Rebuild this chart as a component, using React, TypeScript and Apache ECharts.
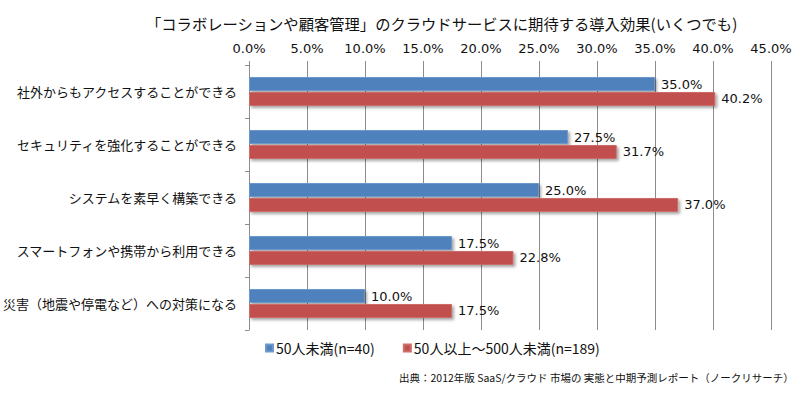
import React, { useEffect, useRef } from "react";
import * as echarts from "echarts";

const titleText = "「コラボレーションや顧客管理」のクラウドサービスに期待する導入効果(いくつでも)";
const sourceText = "出典：2012年版 SaaS/クラウド 市場の 実態と中期予測レポート（ノークリサーチ）";
const categories = [
  "社外からもアクセスすることができる",
  "セキュリティを強化することができる",
  "システムを素早く構築できる",
  "スマートフォンや携帯から利用できる",
  "災害（地震や停電など）への対策になる",
];
const seriesNames = ["50人未満(n=40)", "50人以上～500人未満(n=189)"];
const small = [35.0, 27.5, 25.0, 17.5, 10.0];
const medium = [40.2, 31.7, 37.0, 22.8, 17.5];
const colors = ["#4F81BD", "#C0504D"];
const borderColors = ["#6d98cc", "#cc6e6b"];

const JP = "'Noto Sans CJK JP', sans-serif";
const NUM = "'DejaVu Sans', 'Noto Sans CJK JP', sans-serif";

export default function App() {
  const ref = useRef<HTMLDivElement>(null);
  useEffect(() => {
    if (!ref.current) return;
    const chart = echarts.init(ref.current, undefined, { renderer: "svg" });
    const mkSeries = (name: string, data: number[], i: number) => ({
      name,
      type: "bar",
      data,
      barWidth: 14,
      barGap: "7%",
      itemStyle: {
        color: colors[i],
        borderColor: borderColors[i],
        borderWidth: 1,
        shadowColor: "rgba(0,0,0,0.35)",
        shadowBlur: 3,
        shadowOffsetX: 2,
        shadowOffsetY: 2,
      },
      label: {
        show: true,
        position: "right",
        distance: 6,
        formatter: (p: any) => Number(p.value).toFixed(1) + "%",
        fontFamily: NUM,
        fontSize: 13,
        color: "#111",
      },
    });
    chart.setOption({
      animation: false,
      backgroundColor: "#fff",
      title: {
        text: titleText,
        left: 141,
        top: 10,
        textStyle: { fontFamily: JP, fontSize: 15.3, fontWeight: "normal", color: "#111" },
      },
      legend: {
        data: seriesNames,
        left: 260,
        top: 336,
        itemWidth: 7,
        itemHeight: 7,
        itemGap: 28,
        icon: "rect",
        textStyle: { fontFamily: JP, fontSize: 14, color: "#111", padding: [0, 0, 0, -2] },
      },
      grid: { left: 245, top: 65, width: 526, height: 265, containLabel: false },
      xAxis: {
        type: "value",
        position: "top",
        min: 0,
        max: 45,
        interval: 5,
        axisLine: { show: false },
        axisTick: { show: true, length: 4, lineStyle: { color: "#8c8c8c" } },
        splitLine: { show: true, lineStyle: { color: "#8c8c8c", width: 1 } },
        axisLabel: {
          margin: 10,
          fontFamily: NUM,
          fontSize: 13,
          color: "#111",
          formatter: (v: number) => v.toFixed(1) + "%",
        },
      },
      yAxis: {
        type: "category",
        inverse: true,
        data: categories,
        axisLine: { show: true, lineStyle: { color: "#8c8c8c" } },
        axisTick: { show: true, length: 4, lineStyle: { color: "#8c8c8c" } },
        axisLabel: { margin: 12, fontFamily: JP, fontSize: 13, color: "#111" },
      },
      graphic: [
        {
          type: "text",
          left: 399,
          top: 372,
          style: { text: sourceText, fontFamily: JP, fontSize: 10.5, fill: "#111" },
        },
      ],
      series: [mkSeries(seriesNames[0], small, 0), mkSeries(seriesNames[1], medium, 1)],
    });
    return () => chart.dispose();
  }, []);
  return (
    <div
      style={{
        position: "fixed",
        left: 0,
        top: 0,
        width: 800,
        height: 405,
        boxSizing: "border-box",
        border: "1px solid #a6a6a6",
        background: "#fff",
      }}
    >
      <div ref={ref} style={{ position: "absolute", left: -1, top: -1, width: 800, height: 405 }} />
    </div>
  );
}
